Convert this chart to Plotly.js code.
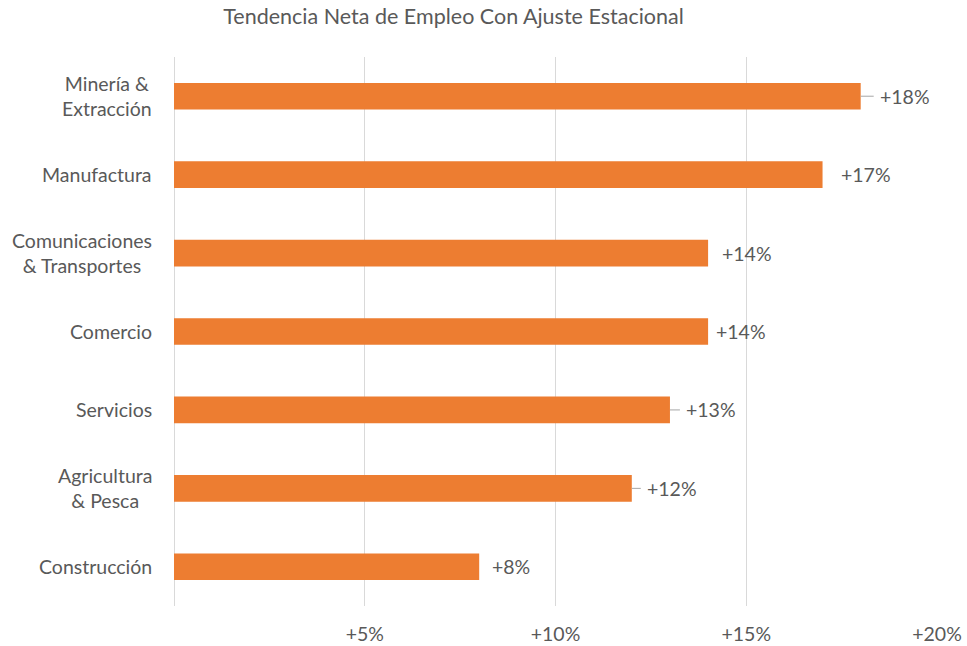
<!DOCTYPE html>
<html><head><meta charset="utf-8">
<script src="https://cdn.plot.ly/plotly-3.0.1.min.js"></script>
<style>html,body{margin:0;padding:0;background:#fff}#chart{width:967px;height:646px}</style>
</head><body><div id="chart"></div>
<script>
const categories = ["Minería &<br>Extracción","Manufactura","Comunicaciones<br>& Transportes","Comercio","Servicios","Agricultura<br>& Pesca","Construcción"];
const values = [18,17,14,14,13,12,8];
const valueLabels = ["+18%","+17%","+14%","+14%","+13%","+12%","+8%"];
const leader = [true,false,false,false,true,true,false];
const labelShift = [18,17,13,7,15,14,12];
const tickVals = [5,10,15,20];
const tickText = ["+5%","+10%","+15%","+20%"];

const FONT = "Lato, 'Open Sans', sans-serif";
const GRAY = "#595959";
const FS = 19.5;

const annotations = [];
categories.forEach((c,i)=>{
  annotations.push({xref:'paper',yref:'y',x:0,y:c,text:c,showarrow:false,xanchor:'right',xshift:-20,align:'center',
    font:{family:FONT,size:FS,color:GRAY}});
  if(leader[i]){
    annotations.push({xref:'x',yref:'y',x:values[i],y:c,text:valueLabels[i],showarrow:true,arrowhead:0,arrowwidth:1,
      arrowcolor:'#a6a6a6',ax:labelShift[i]-1,ay:0,xanchor:'left',standoff:0,startstandoff:4,
      font:{family:FONT,size:FS,color:GRAY}});
  } else {
    annotations.push({xref:'x',yref:'y',x:values[i],y:c,text:valueLabels[i],showarrow:false,xanchor:'left',xshift:labelShift[i]-1,
      font:{family:FONT,size:FS,color:GRAY}});
  }
});

const trace = {type:'bar',orientation:'h',x:values,y:categories,marker:{color:'#ED7D31'},width:0.34,hoverinfo:'none'};
const layout = {
  width:967,height:646,paper_bgcolor:'#fff',plot_bgcolor:'#fff',
  margin:{l:174,r:30,t:57,b:40},
  title:{text:"Tendencia Neta de Empleo Con Ajuste Estacional",font:{family:FONT,size:21.5,color:GRAY},xref:'container',x:0.469,xanchor:'center',y:0.974,yanchor:'middle'},
  xaxis:{range:[0,20],tickvals:tickVals,ticktext:tickText,showgrid:true,gridcolor:'#d9d9d9',gridwidth:1,
    zeroline:true,zerolinecolor:'#d9d9d9',zerolinewidth:1,showline:false,ticks:'',ticklabelstandoff:14,
    tickfont:{family:FONT,size:FS,color:GRAY},fixedrange:true},
  yaxis:{type:'category',autorange:'reversed',showticklabels:false,showgrid:false,zeroline:false,ticks:'',fixedrange:true},
  annotations:annotations,showlegend:false,bargap:0.66
};
Plotly.newPlot('chart',[trace],layout,{displayModeBar:false,staticPlot:true});
</script></body></html>
